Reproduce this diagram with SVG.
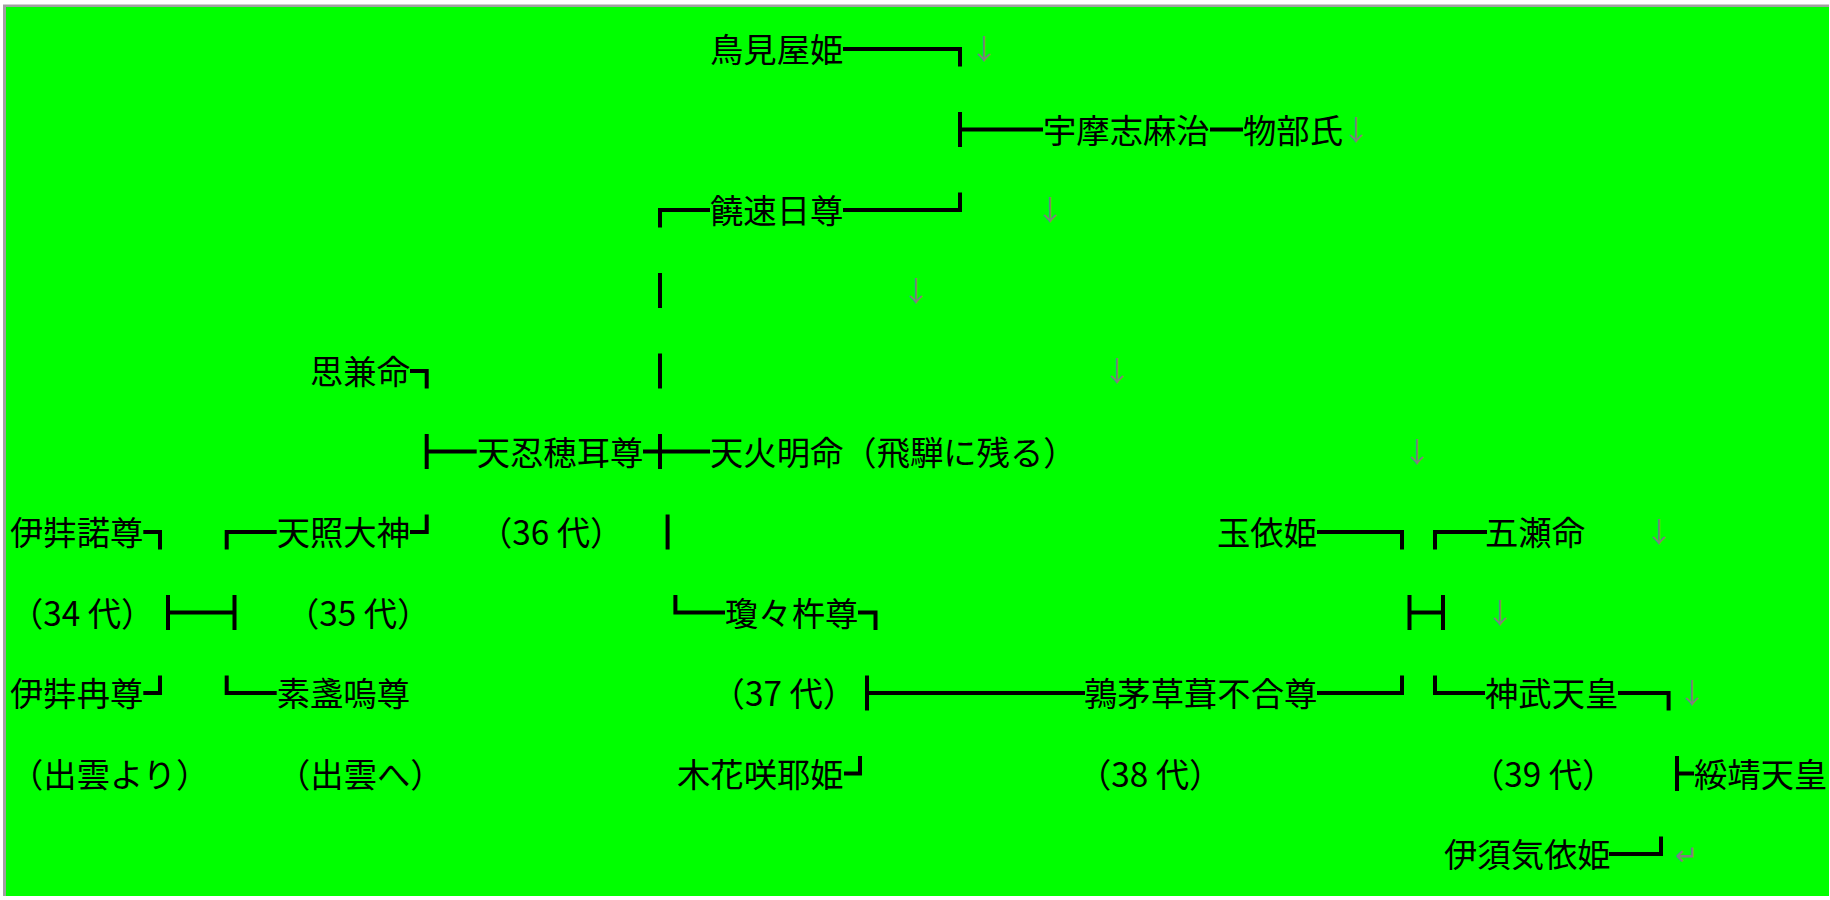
<svg xmlns="http://www.w3.org/2000/svg" width="1830" height="900" viewBox="0 0 1830 900">
<style>
.t{font-family:"Noto Sans CJK JP","Noto Sans CJK SC",sans-serif;font-size:33.33px;fill:#000}
.m{font-family:"Noto Sans CJK JP","Noto Sans CJK SC",sans-serif;font-size:28px;fill:#808080;text-anchor:middle}
#connectors line,#connectors polyline{stroke:#000;stroke-width:4;fill:none;stroke-linejoin:miter}
</style>
<rect width="1830" height="900" fill="#fff"/>
<rect x="3" y="4.5" width="1826" height="891.5" fill="#a0a0a0"/>
<rect x="6" y="7" width="1823" height="889" fill="#00ff00"/>

<g id="connectors">
<polyline points="843,49 960,49 960,66.5"/>
<line x1="960" y1="112" x2="960" y2="147"/>
<line x1="958" y1="129.5" x2="1043" y2="129.5"/>
<line x1="1210" y1="129.5" x2="1243" y2="129.5"/>
<polyline points="710,210 660,210 660,227.5"/>
<polyline points="843,210 960,210 960,192.5"/>
<line x1="660" y1="273" x2="660" y2="308"/>
<polyline points="410,371 426.7,371 426.7,388.5"/>
<line x1="660" y1="353.5" x2="660" y2="388.5"/>
<line x1="426.7" y1="434" x2="426.7" y2="469"/>
<line x1="426.7" y1="451.5" x2="476.7" y2="451.5"/>
<line x1="643" y1="451.5" x2="710" y2="451.5"/>
<line x1="660" y1="434" x2="660" y2="469"/>
<polyline points="143.3,532 160,532 160,549.5"/>
<polyline points="276.7,532 226.7,532 226.7,549.5"/>
<polyline points="410,532 426.7,532 426.7,514.5"/>
<line x1="667.6" y1="514.5" x2="667.6" y2="549.5"/>
<polyline points="1317,532 1402,532 1402,549.5"/>
<polyline points="1487,532 1435,532 1435,549.5"/>
<line x1="168" y1="595" x2="168" y2="630"/>
<line x1="168" y1="612.5" x2="234.5" y2="612.5"/>
<line x1="234.5" y1="595" x2="234.5" y2="630"/>
<polyline points="725,612.5 675.4,612.5 675.4,595"/>
<polyline points="858,612.5 875.5,612.5 875.5,630"/>
<line x1="1409.5" y1="595" x2="1409.5" y2="630"/>
<line x1="1409.5" y1="612.5" x2="1443" y2="612.5"/>
<line x1="1443" y1="595" x2="1443" y2="630"/>
<polyline points="143.3,693 160,693 160,675.5"/>
<polyline points="276.7,693 226.7,693 226.7,675.5"/>
<line x1="867" y1="675.5" x2="867" y2="710.5"/>
<line x1="867" y1="693" x2="1085" y2="693"/>
<polyline points="1317,693 1402,693 1402,675.5"/>
<polyline points="1485,693 1435,693 1435,675.5"/>
<polyline points="1618,693 1668.6,693 1668.6,710.5"/>
<polyline points="844,773.5 860,773.5 860,756"/>
<line x1="1677" y1="756" x2="1677" y2="791"/>
<line x1="1677" y1="773.5" x2="1694" y2="773.5"/>
<polyline points="1609,854 1661,854 1661,836.5"/>
</g>

<g id="n-torimiya"><text class="t" x="710" y="62">鳥見屋姫</text></g>
<g id="n-umashimaji"><text class="t" x="1043" y="142.5">宇摩志麻治</text></g>
<g id="n-mononobe"><text class="t" x="1243" y="142.5">物部氏</text></g>
<g id="n-nigihayahi"><text class="t" x="710" y="223">饒速日尊</text></g>
<g id="n-omoikane"><text class="t" x="310" y="384">思兼命</text></g>
<g id="n-oshihomimi"><text class="t" x="476.7" y="464.5">天忍穂耳尊</text></g>
<g id="n-honoakari"><text class="t" x="710" y="464.5">天火明命（飛騨に残る）</text></g>
<g id="n-izanagi"><text class="t" x="10" y="545">伊弉諾尊</text></g>
<g id="n-amaterasu"><text class="t" x="276.7" y="545">天照大神</text></g>
<g id="g36"><text class="t" x="479" y="545">（36 代）</text></g>
<g id="n-tamayori"><text class="t" x="1217" y="545">玉依姫</text></g>
<g id="n-itsuse"><text class="t" x="1485" y="545">五瀬命</text></g>
<g id="g34"><text class="t" x="10" y="625.5">（34 代）</text></g>
<g id="g35"><text class="t" x="286" y="625.5">（35 代）</text></g>
<g id="n-ninigi"><text class="t" x="725" y="625.5">瓊々杵尊</text></g>
<g id="n-izanami"><text class="t" x="10" y="706">伊弉冉尊</text></g>
<g id="n-susanoo"><text class="t" x="276.7" y="706">素盞嗚尊</text></g>
<g id="g37"><text class="t" x="711.6" y="706">（37 代）</text></g>
<g id="n-ugaya"><text class="t" x="1084" y="706">鶉茅草葺不合尊</text></g>
<g id="n-jimmu"><text class="t" x="1485" y="706">神武天皇</text></g>
<g id="note-izumo-from"><text class="t" x="10" y="786.5">（出雲より）</text></g>
<g id="note-izumo-to"><text class="t" x="277" y="786.5">（出雲へ）</text></g>
<g id="n-konohana"><text class="t" x="677" y="786.5">木花咲耶姫</text></g>
<g id="g38"><text class="t" x="1078" y="786.5">（38 代）</text></g>
<g id="g39"><text class="t" x="1471" y="786.5">（39 代）</text></g>
<g id="n-suizei"><text class="t" x="1694" y="786.5">綏靖天皇</text></g>
<g id="n-isukeyori"><text class="t" x="1444" y="867">伊須気依姫</text></g>

<g id="marks">
<text class="m" x="984" y="60">↓</text>
<text class="m" x="1356" y="140.5">↓</text>
<text class="m" x="1050" y="221">↓</text>
<text class="m" x="916" y="301.5">↓</text>
<text class="m" x="1117" y="382">↓</text>
<text class="m" x="1417" y="462.5">↓</text>
<text class="m" x="1659" y="543">↓</text>
<text class="m" x="1500" y="623.5">↓</text>
<text class="m" x="1692" y="704">↓</text>
<text class="m" x="1686" y="865">↵</text>
</g>
</svg>
